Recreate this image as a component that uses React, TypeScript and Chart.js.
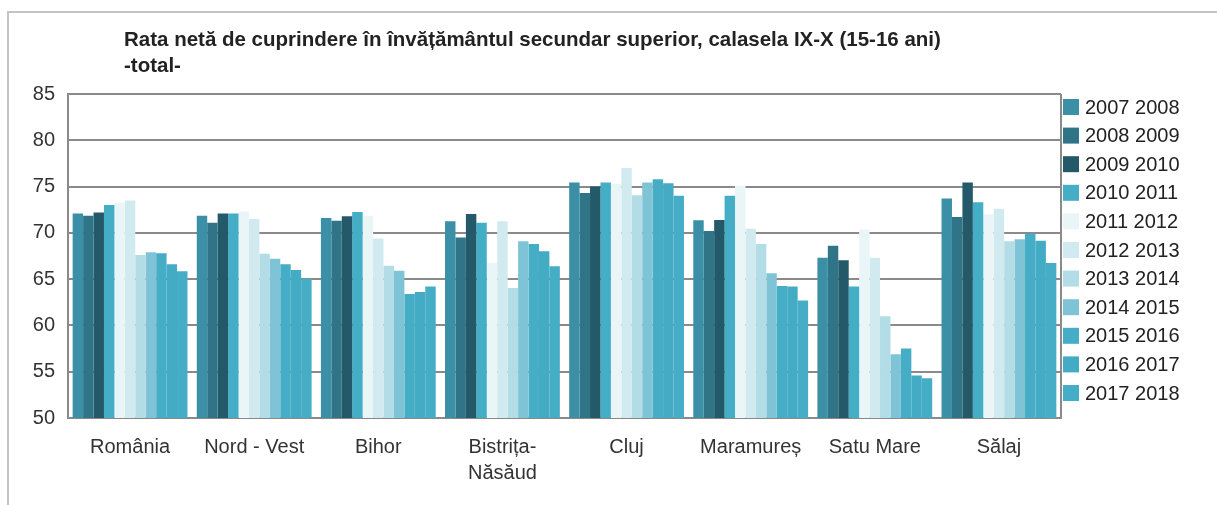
import React, { useEffect, useRef } from "react";
import { Chart, registerables } from "chart.js";

Chart.register(...registerables);

const categories: (string | string[])[] = [
  "România",
  "Nord - Vest",
  "Bihor",
  ["Bistrița-", "Năsăud"],
  "Cluj",
  "Maramureș",
  "Satu Mare",
  "Sălaj",
];

const seriesLabels = [
  "2007 2008",
  "2008 2009",
  "2009 2010",
  "2010 2011",
  "2011 2012",
  "2012 2013",
  "2013 2014",
  "2014 2015",
  "2015 2016",
  "2016 2017",
  "2017 2018",
];

const seriesColors = [
  "#3b8fa6",
  "#2f7487",
  "#24596a",
  "#44aec6",
  "#eaf5f8",
  "#d1eaf0",
  "#b2dce6",
  "#7fc4d6",
  "#45adc5",
  "#43abc4",
  "#45adc5",
];

const v0708 = [72.1, 71.85, 71.6, 71.25, 75.45, 71.35, 67.3, 73.7];
const v0809 = [71.85, 71.1, 71.3, 69.5, 74.3, 70.2, 68.6, 71.7];
const v0910 = [72.2, 72.1, 71.8, 72.05, 75.0, 71.4, 67.05, 75.45];
const v1011 = [73.0, 72.1, 72.25, 71.1, 75.45, 74.0, 64.2, 73.3];
const v1112 = [73.25, 72.3, 71.85, 66.75, 75.3, 75.1, 70.35, 72.0];
const v1213 = [73.5, 71.5, 69.4, 71.25, 77.0, 70.45, 67.3, 72.6];
const v1314 = [67.6, 67.75, 66.45, 64.05, 74.05, 68.8, 61.0, 69.1];
const v1415 = [67.9, 67.2, 65.9, 69.1, 75.45, 65.65, 56.9, 69.3];
const v1516 = [67.8, 66.6, 63.4, 68.8, 75.8, 64.25, 57.5, 69.9];
const v1617 = [66.6, 66.0, 63.6, 68.0, 75.35, 64.2, 54.6, 69.15];
const v1718 = [65.85, 65.05, 64.2, 66.4, 74.0, 62.7, 54.3, 66.75];

const seriesValues = [v0708, v0809, v0910, v1011, v1112, v1213, v1314, v1415, v1516, v1617, v1718];

const titleLines = [
  "Rata netă de cuprindere în învățământul secundar superior, calasela IX-X (15-16 ani)",
  "-total-",
];

const yMin = 50;
const yMax = 85;
const yStep = 5;

const FONT = '"Liberation Sans", Arial, sans-serif';

const decorPlugin = {
  id: "decor",
  afterDraw(chart: any) {
    const ctx = chart.ctx;
    const area = chart.chartArea;
    ctx.save();
    // outer frame
    ctx.strokeStyle = "#c4c4c4";
    ctx.lineWidth = 2;
    ctx.beginPath();
    ctx.moveTo(8, 505);
    ctx.lineTo(8, 12);
    ctx.lineTo(1217, 12);
    ctx.stroke();
    // right border of plot
    ctx.strokeStyle = "#8a8a8a";
    ctx.lineWidth = 2;
    ctx.beginPath();
    ctx.moveTo(area.right, area.top);
    ctx.lineTo(area.right, area.bottom);
    ctx.stroke();
    // title
    ctx.fillStyle = "#222";
    ctx.font = `bold 20.5px ${FONT}`;
    ctx.textBaseline = "alphabetic";
    ctx.textAlign = "left";
    ctx.fillText(titleLines[0], 124, 46);
    ctx.fillText(titleLines[1], 124, 72);
    // legend
    ctx.font = `20px ${FONT}`;
    ctx.textBaseline = "middle";
    chart.data.datasets.forEach((ds: any, i: number) => {
      const cy = 107 + i * 28.6;
      ctx.fillStyle = ds.backgroundColor;
      ctx.fillRect(area.right + 2, cy - 8, 16, 16);
      ctx.fillStyle = "#222";
      ctx.fillText(ds.label, area.right + 24, cy + 1);
    });
    ctx.restore();
  },
};

export default function App() {
  const ref = useRef<HTMLCanvasElement | null>(null);

  useEffect(() => {
    if (!ref.current) return;
    const chart = new Chart(ref.current, {
      type: "bar",
      data: {
        labels: categories,
        datasets: seriesLabels.map((label, i) => ({
          label,
          data: seriesValues[i],
          backgroundColor: seriesColors[i],
          borderWidth: 0,
          categoryPercentage: 0.925,
          barPercentage: 1.0,
        })),
      },
      options: {
        animation: false,
        responsive: false,
        devicePixelRatio: 1,
        layout: { padding: { left: 8, top: 94, right: 156, bottom: 0 } },
        plugins: {
          legend: { display: false },
          title: { display: false },
          tooltip: { enabled: false },
        },
        scales: {
          x: {
            grid: { display: false, drawTicks: false },
            border: { display: true, color: "#8a8a8a", width: 2 },
            ticks: {
              color: "#333",
              font: { family: FONT, size: 20, lineHeight: 1.3 },
              padding: 16,
              maxRotation: 0,
              autoSkip: false,
            },
            afterFit: (scale: any) => {
              scale.height = 87;
            },
          },
          y: {
            min: yMin,
            max: yMax,
            grid: { color: "#8a8a8a", lineWidth: 2, drawTicks: false },
            border: { display: true, color: "#8a8a8a", width: 2 },
            ticks: {
              stepSize: yStep,
              color: "#333",
              font: { family: FONT, size: 20 },
              padding: 13,
            },
            afterFit: (scale: any) => {
              scale.width = 60;
            },
          },
        },
      },
      plugins: [decorPlugin],
    });
    return () => chart.destroy();
  }, []);

  return (
    <canvas
      ref={ref}
      width={1217}
      height={505}
      style={{ position: "fixed", left: 0, top: 0, width: 1217, height: 505, background: "#fff" }}
    />
  );
}
